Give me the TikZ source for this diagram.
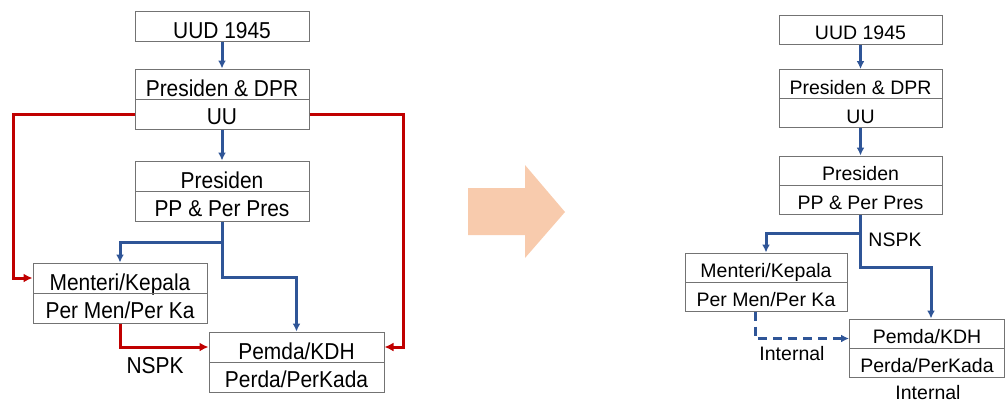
\documentclass[tikz,border=0pt]{standalone}
\usepackage{fontspec}
\setmainfont{Liberation Sans}
\newfontfamily\narrowsans[FakeStretch=0.91]{Liberation Sans}
\usetikzlibrary{arrows.meta}
\definecolor{lineblue}{HTML}{2F5597}
\definecolor{linered}{HTML}{C00000}
\definecolor{peach}{HTML}{F8CBAD}

\begin{document}
\begin{tikzpicture}[x=1pt, y=-1pt,
	box/.style={draw=black!55, line width=1pt, minimum width=174pt, minimum height=30pt, inner sep=0pt, text height=24pt, text depth=0pt, font=\narrowsans\fontsize{23}{26}\selectfont},
	lowbox/.style={box, text height=20pt},
	sbox/.style={box, minimum width=163pt, minimum height=29pt, text height=20pt, font=\fontsize{19.5}{23}\selectfont},
	bluearrow/.style={draw=lineblue, line width=3pt, -{Latex[length=8pt,width=8pt]}},
	redarrow/.style={draw=linered, line width=3pt, -{Latex[length=9pt,width=9pt]}},
	lbl/.style={inner sep=0pt, font=\narrowsans\fontsize{23}{26}\selectfont},
	slbl/.style={inner sep=0pt, font=\fontsize{19.5}{23}\selectfont}]
		\useasboundingbox (0,0) rectangle (1005,405);
		\node[box] (uud) at (222,26) {UUD 1945};
		\node[box] (pdpr) at (222,84) {Presiden \& DPR};
		\node[lowbox] (uu) at (222,114) {UU};
		\node[box] (pres) at (222,176) {Presiden};
		\node[lowbox] (pp) at (222,206) {PP \& Per Pres};
		\node[box] (menteri) at (120,278) {Menteri/Kepala};
		\node[lowbox] (permen) at (120,308) {Per Men/Per Ka};
		\node[box, minimum width=175pt] (pemda) at (296.5,347) {Pemda/KDH};
		\node[lowbox, minimum width=175pt] (perda) at (296.5,377.5) {Perda/PerKada};
		\coordinate (split) at (222,242);
		\coordinate (bend) at (222,277);
		\coordinate (lbend) at (13,114);
		\coordinate (rbend) at (403,114);
		\draw[bluearrow] (uud) -- (pdpr);
		\draw[bluearrow] (uu) -- (pres);
		\draw[bluearrow] (pp.south) -- (split) -| (menteri.north);
		\draw[bluearrow] (split) -- (bend) -| (pemda.north);
		\draw[redarrow] (uu.west) -- (lbend) |- (menteri.west);
		\draw[redarrow] (uu.east) -- (rbend) |- (pemda.east);
		\draw[redarrow] (permen.south) |- (pemda.west);
		\node[lbl] (nspk) at (155,366) {NSPK};

		\fill[peach] (468,188) -- (525,188) -- (525,165) -- (565,212) -- (525,258) -- (525,235) -- (468,235) -- cycle;

		\node[sbox] (uudb) at (860.5,29.5) {UUD 1945};
		\node[sbox] (pdprb) at (860.5,84) {Presiden \& DPR};
		\node[sbox] (uub) at (860.5,113) {UU};
		\node[sbox] (presb) at (860.5,170.5) {Presiden};
		\node[sbox] (ppb) at (860.5,199.5) {PP \& Per Pres};
		\node[sbox, minimum width=162pt] (menterib) at (766,267.5) {Menteri/Kepala};
		\node[sbox, minimum width=162pt] (permenb) at (766,296.5) {Per Men/Per Ka};
		\node[sbox, minimum width=155pt] (pemdab) at (927,333.5) {Pemda/KDH};
		\node[sbox, minimum width=155pt] (perdab) at (927,362.5) {Perda/PerKada};
		\coordinate (splitb) at (860.5,233);
		\coordinate (bendb) at (860.5,267);
		\draw[bluearrow] (uudb) -- (pdprb);
		\draw[bluearrow] (uub) -- (presb);
		\draw[bluearrow] (ppb.south) -- (splitb) -| (menterib.north);
		\draw[bluearrow] (splitb) -- (bendb) -| ([xshift=4pt]pemdab.north);
		\draw[bluearrow, dashed, dash pattern=on 9pt off 6pt] ([xshift=-11pt]permenb.south) |- ([yshift=-5pt]pemdab.west);
		\node[slbl] (nspkb) at (895,240) {NSPK};
		\node[slbl] (intl) at (792,354) {Internal};
		\node[slbl] (intr) at (928,393) {Internal};
\end{tikzpicture}
\end{document}
